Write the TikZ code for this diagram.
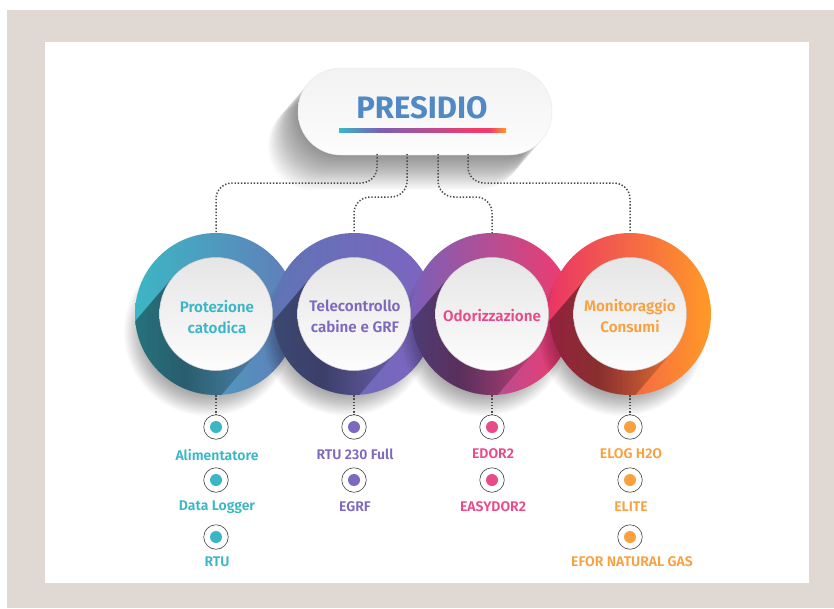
\documentclass[tikz,border=0pt]{standalone}
\usepackage{fontspec}
\setmainfont{Fira Sans}[BoldFont={Fira Sans SemiBold}]
\newfontfamily\titlefont{Fira Sans}[UprightFont={* Bold}]
\usetikzlibrary{fadings,calc}
\definecolor{frameC}{HTML}{E0D8D3}
\definecolor{tealC}{HTML}{3AB6C6}
\definecolor{purpC}{HTML}{7C69BD}
\definecolor{pinkC}{HTML}{E84A8A}
\definecolor{oranC}{HTML}{F9A03F}
\definecolor{titleC}{HTML}{5189C5}
\definecolor{a1}{HTML}{3CB6C4}
\definecolor{a2}{HTML}{627CB9}
\definecolor{b1}{HTML}{5F74B5}
\definecolor{b2}{HTML}{7F63C0}
\definecolor{c1x}{HTML}{7A60B8}
\definecolor{c2x}{HTML}{F33A6C}
\definecolor{d1}{HTML}{EA3565}
\definecolor{d2}{HTML}{FF9A26}
\pgfdeclarehorizontalshading{bandshade}{100bp}{color(0bp)=(black!68); color(25bp)=(black!68); color(52bp)=(black!57); color(75bp)=(black!90); color(100bp)=(black!100)}
\tikzfading[name=bandfade, shading=bandshade]
\pgfdeclarehorizontalshading{barshade}{100bp}{color(0bp)=(tealC); color(25bp)=(tealC); color(37bp)=(c1x); color(66bp)=(c2x); color(70bp)=(c2x); color(75bp)=(d2); color(100bp)=(d2)}
\tikzset{
  bigdisc/.style={circle,minimum size=162pt,inner sep=0pt},
  innerdisc/.style={circle,minimum size=113pt,inner sep=0pt,top color=black!10,bottom color=black!1,draw=black!18,line width=.5pt},
  disctext/.style={align=center,inner sep=0pt,font=\bfseries\fontsize{15.2}{21}\selectfont},
  conn/.style={draw=black!70,line width=1.5pt,dash pattern=on 1.4pt off 1.8pt,rounded corners=16pt},
  ring/.style={circle,minimum size=24.5pt,inner sep=0pt,draw=black!75,line width=.6pt,fill=white},
  dotmark/.style={circle,minimum size=12pt,inner sep=0pt},
  lab/.style={font=\bfseries\fontsize{14}{15}\selectfont,inner sep=0pt},
}
\newcommand{\softshadow}[2]{%
  \foreach \k in {0,...,19}{
    \fill[black,opacity=.02] ({#1-8},{#2+18}) circle ({84-\k*1.2});
  }%
}
\newcommand{\longband}[2]{%
  \begin{scope}
    \clip (#1,#2) circle (81);
    \fill[black,path fading=bandfade]
      ({#1-43},{#2-37}) -- ({#1+43},{#2+37}) -- ({#1-35},{#2+128}) -- ({#1-121},{#2+54}) -- cycle;
  \end{scope}%
}
\begin{document}
\begin{tikzpicture}[x=1pt,y=-1pt]
\useasboundingbox (0,0) rectangle (834,608);
\fill[white] (0,0) rectangle (834,608);
\fill[frameC] (7,10) rectangle (834,608);
\fill[white] (45,42) rectangle (809,583);

\coordinate (h1) at (0,183);
\coordinate (h2) at (0,197);
\coordinate (p1) at (377,154);
\coordinate (p2) at (407,154);
\coordinate (p3) at (438,154);
\coordinate (p4) at (468,154);

% pill long shadow
\foreach \k in {1,...,30}{
  \fill[black,opacity=.017,rounded corners=43pt] ({298-\k},{68+\k*1.17}) rectangle ({552-\k},{155+\k*1.17});
}

% discs
\softshadow{216}{314}
\node[bigdisc,left color=a1,right color=a2] (c1) at (216,314) {};
\longband{216}{314}
\softshadow{354}{314}
\node[bigdisc,left color=b1,right color=b2] (c2) at (354,314) {};
\longband{354}{314}
\softshadow{492}{314}
\node[bigdisc,left color=c1x,right color=c2x] (c3) at (492,314) {};
\longband{492}{314}
\softshadow{630}{314}
\node[bigdisc,left color=d1,right color=d2] (c4) at (630,314) {};
\longband{630}{314}

\node[innerdisc] (i1) at (216,314) {};
\node[innerdisc] (i2) at (354,314) {};
\node[innerdisc] (i3) at (492,314) {};
\node[innerdisc] (i4) at (630,314) {};
\node[disctext,text=tealC] (t1) at (217,317) {Protezione\\catodica};
\node[disctext,text=purpC] (t2) at (355,316) {Telecontrollo\\cabine e GRF};
\node[disctext,text=pinkC] (t3) at (492,316) {Odorizzazione};
\node[disctext,text=oranC] (t4) at (630,316) {Monitoraggio\\Consumi};

% pill
\node[rounded corners=43pt,minimum width=254pt,minimum height=87pt,inner sep=0pt,top color=black!5,bottom color=black!1,draw=black!9,line width=.4pt] (pill) at (425,111.5) {};
\node[text=titleC,font=\titlefont\fontsize{31}{31}\selectfont,inner sep=0pt] (title) at (422,108) {PRESIDIO};
\node[minimum width=167pt,minimum height=4pt,inner sep=0pt,shading=barshade] (bar) at (422.5,130) {};

\draw[conn] (p1) |- (c1.north |- h1) -- (c1.north);
\draw[conn] (p2) |- (c2.north |- h2) -- (c2.north);
\draw[conn] (p3) |- (c3.north |- h2) -- (c3.north);
\draw[conn] (p4) |- (c4.north |- h1) -- (c4.north);

% rings
\foreach \n/\x/\col in {a/216/tealC,b/354/purpC,c/492/pinkC,d/630/oranC}{
  \node[ring] (\n r1) at (\x,427) {};
  \node[dotmark,fill=\col] (\n d1) at (\x,427) {};
  \node[ring] (\n r2) at (\x,480) {};
  \node[dotmark,fill=\col] (\n d2) at (\x,480) {};
}
\foreach \n/\x/\col in {a/216/tealC,d/630/oranC}{
  \node[ring] (\n r3) at (\x,537) {};
  \node[dotmark,fill=\col] (\n d3) at (\x,537) {};
}
\draw[conn] (c1.south) -- (ar1.north);
\draw[conn] (c2.south) -- (br1.north);
\draw[conn] (c3.south) -- (cr1.north);
\draw[conn] (c4.south) -- (dr1.north);

\node[lab,text=tealC] (l1) at (217,454.5) {Alimentatore};
\node[lab,text=tealC] (l2) at (217,507.5) {Data Logger};
\node[lab,text=tealC] (l3) at (217,562) {RTU};
\node[lab,text=purpC] (l4) at (355,454) {RTU 230 Full};
\node[lab,text=purpC] (l5) at (355,507) {EGRF};
\node[lab,text=pinkC] (l6) at (493,454) {EDOR2};
\node[lab,text=pinkC] (l7) at (493,507) {EASYDOR2};
\node[lab,text=oranC] (l8) at (631,454) {ELOG H2O};
\node[lab,text=oranC] (l9) at (631,507) {ELITE};
\node[lab,text=oranC] (l10) at (632,562) {EFOR NATURAL GAS};
\end{tikzpicture}
\end{document}
